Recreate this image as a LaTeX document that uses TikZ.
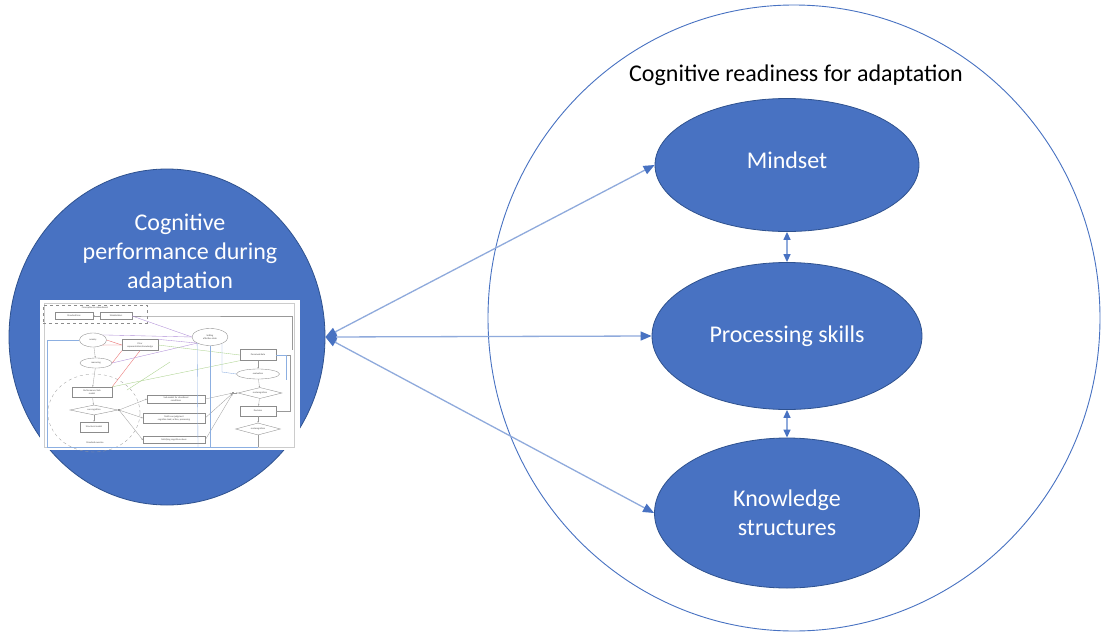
\documentclass[tikz,border=0pt]{standalone}
\usepackage{fontspec}
\setmainfont{Carlito}
\usetikzlibrary{shapes.geometric,arrows.meta}
\definecolor{office}{RGB}{72,114,194}
\definecolor{officedark}{RGB}{47,82,143}
\definecolor{linkblue}{RGB}{143,170,220}
\definecolor{minired}{RGB}{235,110,110}
\definecolor{minipurple}{RGB}{175,140,215}
\definecolor{minigreen}{RGB}{170,210,140}
\definecolor{miniblue}{RGB}{140,175,225}
\tikzset{
  bigblob/.style={ellipse, fill=office, draw=officedark, line width=0.8pt, inner sep=0pt},
  bigtext/.style={text=white, font=\fontsize{24}{29}\selectfont, align=center},
  link/.style={draw=linkblue, line width=1.3pt,
    {Triangle[length=11pt,width=9pt,color=office]}-{Triangle[length=11pt,width=9pt,color=office]}},
  vlink/.style={draw=linkblue, line width=1.3pt,
    {Triangle[length=8pt,width=7pt,color=office]}-{Triangle[length=8pt,width=7pt,color=office]}},
  tiny/.style={font=\fontsize{2.4}{2.8}\selectfont, align=center, inner sep=0.3pt, text=black!70},
  mbox/.style={tiny, draw=black!45, line width=0.35pt, fill=white, rectangle},
  mell/.style={tiny, draw=black!45, line width=0.35pt, fill=white, ellipse},
  mdia/.style={tiny, draw=black!45, line width=0.35pt, fill=white, diamond, aspect=4},
  mline/.style={draw=black!40, line width=0.3pt},
  marr/.style={mline, -{Stealth[length=1.6pt,width=1.3pt]}},
  mdot/.style={circle, fill=black!80, inner sep=0pt, minimum size=1.6pt},
}
\begin{document}
\begin{tikzpicture}[x=1pt,y=-1pt]
\useasboundingbox (0,0) rectangle (1101,632);
\clip (0,0) rectangle (1101,632);
\fill[white] (0,0) rectangle (1101,632);

% outer circle: readiness
\node[ellipse, draw=office, line width=0.9pt, minimum width=612pt, minimum height=626pt, inner sep=0pt]
  (outer) at (794,318) {};
\node[font=\fontsize{24}{29}\selectfont] (title) at (796,75) {Cognitive readiness for adaptation};

% three components
\node[bigblob, minimum width=264pt, minimum height=133pt] (mind) at (787,165) {};
\node[bigtext] (mindt) at (787,160) {Mindset};
\node[bigblob, minimum width=270pt, minimum height=147pt] (proc) at (787,336) {};
\node[bigtext] (proct) at (787,336) {Processing skills};
\node[bigblob, minimum width=265pt, minimum height=150pt] (know) at (787,513) {};
\node[bigtext] (knowt) at (787,513) {Knowledge\\structures};

\draw[vlink] (mind.south) -- (proc.north);
\draw[vlink] (proc.south) -- (know.north);

% left ellipse: performance
\node[bigblob, minimum width=316pt, minimum height=336pt] (perf) at (167,337) {};
\node[bigtext] (perft) at (180,253) {Cognitive\\performance during\\adaptation};

\draw[link] (perf.east) -- (mind.west);
\draw[link] (perf.east) -- (proc.west);
\draw[link] (perf.east) -- (know.west);

% embedded process model
\fill[white] (40,300) rectangle (300,450);
\draw[black!20, line width=0.3pt] (44,303) rectangle (294,447);

\node[draw=black!45, dashed, line width=0.3pt, minimum width=104pt, minimum height=18pt, inner sep=0pt] (cbox) at (95,314) {};
\node[tiny] (ctitle) at (95,308) {Conception \& embodiment};
\node[mbox, minimum width=38pt, minimum height=7pt] (sb) at (74,316) {Standard bias};
\node[mbox, minimum width=32pt, minimum height=7pt] (st) at (116,316) {Stakeholders};
\draw[marr] (st) -- (sb);

\node[mell, minimum width=27pt, minimum height=14pt] (anx) at (93,340) {anxiety};
\node[mell, minimum width=32pt, minimum height=10pt] (rea) at (96,363) {reasoning};
\node[mbox, minimum width=36pt, minimum height=11pt] (pk) at (140,345) {Prior\\representation/knowledge};
\node[mell, minimum width=36pt, minimum height=17pt] (sa) at (210,337) {Setting\\affective state};
\node[mbox, minimum width=36pt, minimum height=11pt] (pd) at (258,355) {Perceived data};
\node[mell, minimum width=43pt, minimum height=10pt] (val) at (258,374) {evaluation};
\node[mdia, minimum width=44pt, minimum height=11pt] (mc1) at (260,393) {metacognition};
\node[mbox, minimum width=36pt, minimum height=10pt] (dec) at (258,411) {Decision};
\node[mdia, minimum width=45pt, minimum height=12pt] (mc2) at (258,429) {metacognition};
\coordinate (mcend) at (258,447);

\node[ellipse, draw=black!40, dashed, line width=0.3pt, minimum width=92pt, minimum height=78pt, inner sep=0pt] (ex) at (94,413) {};
\node[tiny] (ext) at (95,443) {Standard exercise};
\node[mbox, minimum width=40pt, minimum height=10pt] (pm) at (92,392) {Performance/task\\model};
\node[mdia, minimum width=48pt, minimum height=10pt] (dd) at (94,410) {cue cognition};
\node[mbox, minimum width=28pt, minimum height=10pt] (sm) at (94,427) {Structural model};
\node[mdot] (dot1) at (119,410) {};
\node[mdot] (dot2) at (233,393) {};
\node[mbox, minimum width=58pt, minimum height=8pt] (b1) at (176,399) {Sub-model for situational\\conditions};
\node[mbox, minimum width=62pt, minimum height=10pt] (b2) at (174,418) {Multi-cue judgment\\cognitive load, action, processing};
\node[mbox, minimum width=62pt, minimum height=7pt] (b3) at (174,440) {Satisfying cognitive values};

% model connections
\draw[marr] (anx) -- (rea);
\draw[marr] (rea) -- (pm);
\draw[marr] (pm) -- (dd);
\draw[marr] (dd) -- (sm);
\draw[mline] (dd.east) -- (dot1);
\draw[marr] (dot1) -- (b1.west);
\draw[marr] (dot1) -- (b2.west);
\draw[marr] (dot1) -- (b3.west);
\draw[marr] (b1.east) -- (dot2);
\draw[marr] (b2.east) -- (dot2);
\draw[marr] (b3.east) -- (dot2);
\draw[marr] (dot2) -- (mc1.west);
\draw[marr] (pd) -- (val);
\draw[marr] (val) -- (mc1);
\draw[marr] (mc1) -- (dec);
\draw[marr] (dec) -- (mc2);
\draw[mline] (mc2) -- (mcend);
\draw[mline] (pd.east) -- (290,355) -- (290,411) -- (dec.east);
\draw[mline] (st.east) -- (150,316) -- (292,316) -- (292,350);

% coloured cross-links
\draw[minired, line width=0.35pt] (pk.west) -- (anx.east);
\draw[minired, line width=0.35pt] (pk.west) -- (anx.south east);
\draw[minired, line width=0.35pt] (pk.south west) -- (rea.east);
\draw[minired, line width=0.35pt] (pk.south) -- (pm.north east);
\draw[minipurple, line width=0.35pt] (st.east) -- (sa.west);
\draw[minipurple, line width=0.35pt] (anx.north east) -- (sa.west);
\draw[minipurple, line width=0.35pt] (pk.north east) -- (sa.south west);
\draw[minipurple, line width=0.35pt] (rea.east) -- (sa.south west);
\draw[minigreen, line width=0.35pt] (pk.east) -- (pd.west);
\draw[minigreen, line width=0.35pt] (pm.north east) -- (pd.south west);
\draw[minigreen, line width=0.35pt] (127,390) -- (170,362);
\draw[miniblue, line width=0.35pt] (anx.west) -- (47,340) -- (47,447) -- (mcend);
\draw[miniblue, line width=0.35pt] (sa.south west) -- (198,447);
\draw[miniblue, line width=0.35pt] (sa.south) -- (210,447);
\draw[miniblue, line width=0.35pt] (222,344) -- (222,372) -- (val.west);
\draw[miniblue, line width=0.35pt] (pd.east) -- (286,355) -- (286,380);
\end{tikzpicture}
\end{document}
